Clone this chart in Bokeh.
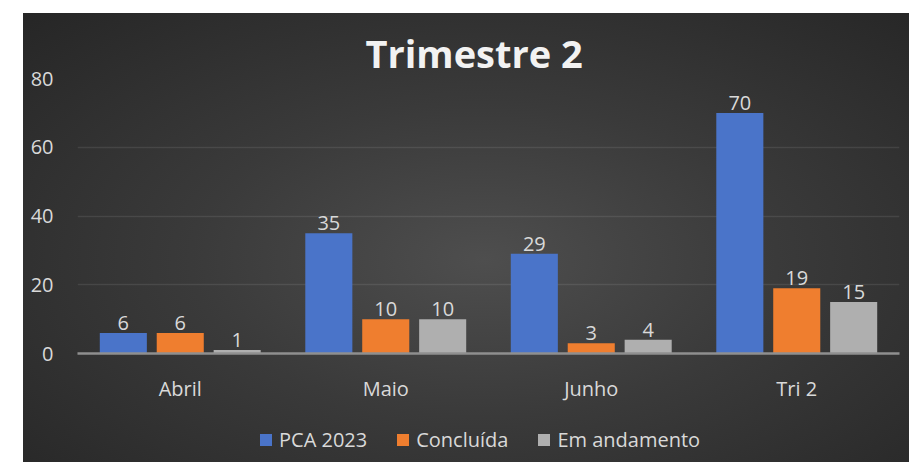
from bokeh.plotting import figure
from bokeh.models import (ColumnDataSource, FactorRange, Range1d, LabelSet, Legend,
                          LegendItem, FixedTicker)
from bokeh.layouts import column
from bokeh.transform import dodge
from bokeh.core.properties import value
from bokeh.embed import file_html
from bokeh.resources import INLINE

# ---- data ----
categories = ["Abril", "Maio", "Junho", "Tri 2"]
series_names = ["PCA 2023", "Concluída", "Em andamento"]
pca_2023 = [6, 35, 29, 70]
concluida = [6, 10, 3, 19]
em_andamento = [1, 10, 4, 15]
y_ticks = [0, 20, 40, 60, 80]
title_text = "Trimestre 2"

colors = ["#4a74c9", "#ef7e2f", "#afafaf"]
keys = ["pca", "conc", "anda"]
offsets = [-0.277, 0.0, 0.277]
FONT = "Open Sans"
TXT = "#d9d9d9"

source = ColumnDataSource(dict(
    cat=categories,
    pca=pca_2023, conc=concluida, anda=em_andamento,
    pca_t=[str(v) for v in pca_2023],
    conc_t=[str(v) for v in concluida],
    anda_t=[str(v) for v in em_andamento],
))

p = figure(width=886, height=397, x_range=FactorRange(factors=categories),
           y_range=Range1d(0, 80), output_backend="svg", toolbar_location=None,
           min_border_left=54, min_border_right=10, min_border_top=65,
           min_border_bottom=57)
p.border_fill_color = None
p.background_fill_color = None
p.outline_line_color = None

p.title.text = title_text
p.title.text_font = FONT
p.title.text_font_style = "bold"
p.title.text_font_size = "38px"
p.title.text_color = "#f2f2f2"
p.title.align = "left"
p.title.offset = 288
p.title.standoff = 0

for k, c, off in zip(keys, colors, offsets):
    p.vbar(x=dodge("cat", off, range=p.x_range), top=k, width=0.229,
           source=source, fill_color=c, line_color=None)
    lbl = LabelSet(x=dodge("cat", off, range=p.x_range), y=k, text=k + "_t",
                   source=source, text_align="center", text_baseline="bottom",
                   y_offset=3, text_font=value(FONT), text_font_size=value("20px"),
                   text_color=TXT)
    p.add_layout(lbl)

# axes
p.yaxis.ticker = FixedTicker(ticks=y_ticks)
p.yaxis.axis_line_color = None
p.yaxis.major_tick_line_color = None
p.yaxis.minor_tick_line_color = None
p.yaxis.major_label_standoff = 18
p.yaxis.major_label_text_font = FONT
p.yaxis.major_label_text_font_size = "20px"
p.yaxis.major_label_text_color = TXT

p.xaxis.axis_line_color = "#8f8f8f"
p.xaxis.axis_line_width = 2.5
p.xaxis.major_tick_line_color = None
p.xaxis.minor_tick_line_color = None
p.xaxis.major_label_standoff = 15
p.xaxis.major_label_text_font = FONT
p.xaxis.major_label_text_font_size = "20px"
p.xaxis.major_label_text_color = TXT

p.xgrid.grid_line_color = None
p.ygrid.grid_line_color = "#ffffff"
p.ygrid.grid_line_alpha = 0.09
p.ygrid.grid_line_width = 1.5

# ---- legend strip (own small figure below the chart, same side borders) ----
p2 = figure(width=886, height=52, x_range=FactorRange(factors=categories),
            y_range=Range1d(0, 1), x_axis_type=None, y_axis_type=None,
            output_backend="svg", toolbar_location=None,
            min_border_left=54, min_border_top=0,
            min_border_right=10, min_border_bottom=0)
p2.border_fill_color = None
p2.background_fill_color = None
p2.outline_line_color = None
p2.xgrid.visible = False
p2.ygrid.visible = False

proxies = []
for k, c, off in zip(keys, colors, offsets):
    r = p2.vbar(x=dodge("cat", off, range=p2.x_range), top=k, width=0.229,
                source=source, fill_color=c, line_color=None)
    r.visible = False
    proxies.append(r)

legend = Legend(items=[LegendItem(label=n, renderers=[r]) for n, r in zip(series_names, proxies)],
                orientation="horizontal", location=(181, 8),
                glyph_width=15, glyph_height=15, label_height=30,
                label_standoff=6, spacing=28,
                label_text_font=FONT, label_text_font_size="20px",
                label_text_color=TXT, label_text_baseline="top",
                background_fill_alpha=0, border_line_color=None,
                padding=0, margin=0)
p2.add_layout(legend, "center")

layout = column(p, p2, spacing=0,
                styles={"background": "radial-gradient(ellipse farthest-corner at 52% 55%, #4e4e4e 0%, #3a3a3a 45%, #262626 100%)"})
layout.margin = (13, 0, 0, 23)

open("out.html", "w").write(file_html(layout, INLINE))
